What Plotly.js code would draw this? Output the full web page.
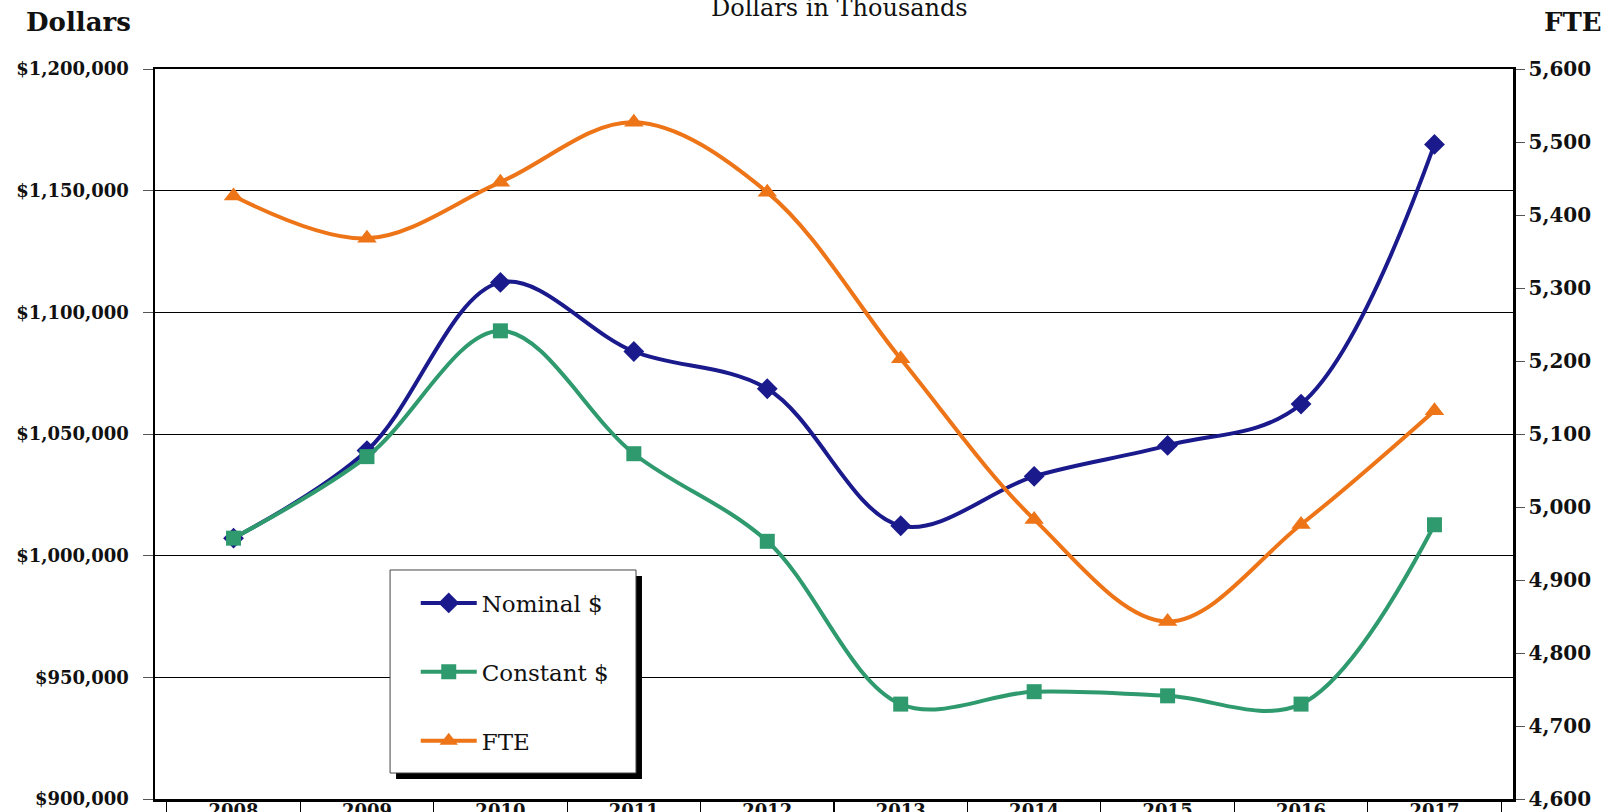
<!DOCTYPE html>
<html>
<head>
<meta charset="utf-8">
<script src="https://cdn.plot.ly/plotly-3.0.1.min.js"></script>
<style>html,body{margin:0;padding:0;background:#fff;}#chart{width:1617px;height:812px;}</style>
</head>
<body>
<div id="chart"></div>
<script>
const years = ["2008","2009","2010","2011","2012","2013","2014","2015","2016","2017"];
const nominal = [1007200, 1043200, 1112300, 1083900, 1068600, 1012300, 1032600, 1045300, 1062300, 1169000];
const constant = [1007200, 1040700, 1092400, 1041900, 1005900, 939000, 944100, 942400, 939000, 1012700];
const fte = [5426, 5368, 5445, 5527, 5431, 5203, 4983, 4843, 4976, 5132];

const navy = "#1a1a8c", green = "#2e9a6e", orange = "#ee7418";
const serif = "DejaVu Serif, serif";

const traces = [
  {x: years, y: nominal, name: "Nominal $", type: "scatter", mode: "lines+markers",
   line: {color: navy, width: 4, shape: "spline", smoothing: 1},
   marker: {symbol: "diamond", size: 16, color: navy}, legendgroup: "a", yaxis: "y"},
  {x: years, y: constant, name: "Constant $", type: "scatter", mode: "lines+markers",
   line: {color: green, width: 4, shape: "spline", smoothing: 1},
   marker: {symbol: "square", size: 15, color: green}, legendgroup: "b", yaxis: "y"},
  {x: years, y: fte, name: "FTE", type: "scatter", mode: "lines+markers",
   line: {color: orange, width: 4, shape: "spline", smoothing: 1},
   marker: {symbol: "triangle-up", size: 17, color: orange}, legendgroup: "c", yaxis: "y2"}
];

const layout = {
  width: 1617, height: 812,
  margin: {l: 155, r: 104, t: 69, b: 13},
  paper_bgcolor: "#fff", plot_bgcolor: "#fff",
  showlegend: true,
  legend: {x: 0.192, y: 0.298, xanchor: "left", yanchor: "top",
    bgcolor: "rgba(0,0,0,0)", borderwidth: 0, itemwidth: 56,
    traceorder: "grouped", tracegroupgap: 36,
    font: {family: serif, size: 23, color: "#111"}},
  xaxis: {type: "category", tickson: "boundaries", ticks: "outside", ticklen: 20,
    tickcolor: "#000", tickwidth: 1.2, showline: true, linecolor: "#000", linewidth: 2.5,
    mirror: true, showgrid: false, ticklabelstandoff: -6,
    tickfont: {family: serif, size: 18, color: "#111", weight: "bold"}},
  yaxis: {range: [900000, 1200000], dtick: 50000, tickprefix: "$", tickformat: ",d",
    showline: true, linecolor: "#000", linewidth: 2.5, mirror: true,
    showgrid: true, gridcolor: "#000", gridwidth: 1, zeroline: false,
    ticks: "outside", ticklen: 10, tickcolor: "#555", ticklabelstandoff: 10,
    tickfont: {family: serif, size: 18, color: "#111", weight: "bold"}},
  yaxis2: {range: [4600, 5600], dtick: 100, tickformat: ",d", overlaying: "y", side: "right",
    showgrid: false, zeroline: false, showline: true, linecolor: "#000", linewidth: 2.5,
    ticks: "outside", ticklen: 9, tickcolor: "#555",
    tickfont: {family: serif, size: 20, color: "#111", weight: "bold"}},
  shapes: [
    {type: "rect", xref: "paper", yref: "paper", x0: 0.1775, x1: 0.3586, y0: 0.0274, y1: 0.3055,
     fillcolor: "#000", line: {width: 0}, layer: "above"},
    {type: "rect", xref: "paper", yref: "paper", x0: 0.1731, x1: 0.3542, y0: 0.0356, y1: 0.3137,
     fillcolor: "#fff", line: {color: "#444", width: 1}, layer: "above"}
  ],
  annotations: [
    {text: "Dollars", xref: "paper", yref: "paper", x: -0.0566, y: 1.0644,
     xanchor: "center", yanchor: "middle", showarrow: false,
     font: {family: serif, size: 26, color: "#111", weight: "bold"}},
    {text: "FTE", xref: "paper", yref: "paper", x: 1.0442, y: 1.0644,
     xanchor: "center", yanchor: "middle", showarrow: false,
     font: {family: serif, size: 26, color: "#111", weight: "bold"}},
    {text: "Dollars in Thousands", xref: "paper", yref: "paper", x: 0.5044, y: 1.0835,
     xanchor: "center", yanchor: "middle", showarrow: false,
     font: {family: serif, size: 24, color: "#111"}}
  ]
};

Plotly.newPlot("chart", traces, layout, {displayModeBar: false, staticPlot: true});
</script>
</body>
</html>
